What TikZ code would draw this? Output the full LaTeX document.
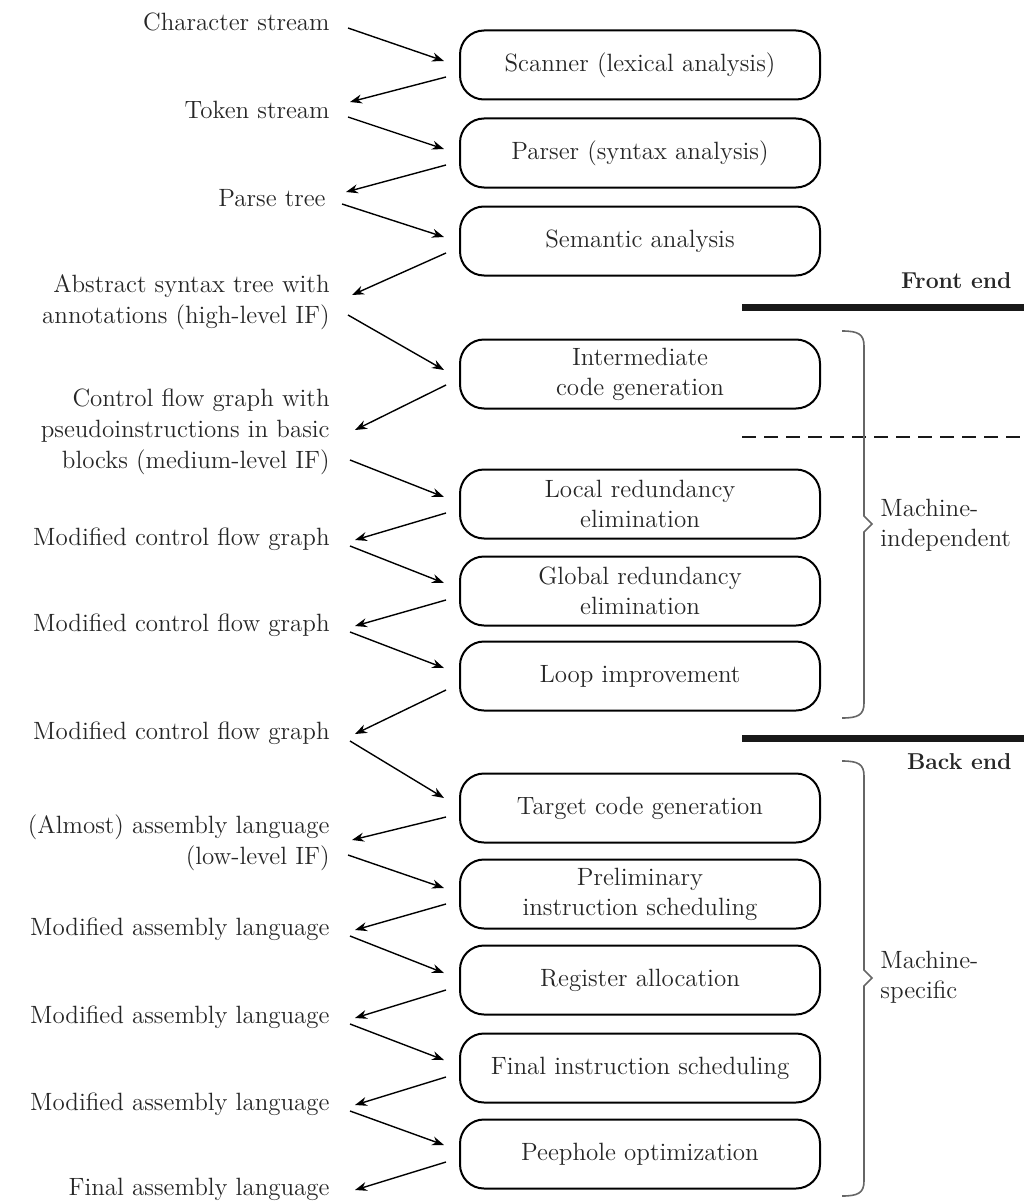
\documentclass[tikz,border=0pt]{standalone}
\usetikzlibrary{arrows.meta}

\colorlet{ink}{black!85}

\begin{document}
\begin{tikzpicture}[x=0.5pt,y=-0.5pt,
    stage/.style={draw=black,line width=1pt,rounded corners=12pt,
      minimum width=180pt,minimum height=34.5pt,inner sep=2pt,align=center,
      text=ink,font=\fontsize{12.5}{15}\selectfont},
    data/.style={anchor=east,align=right,inner sep=0pt,text=ink,
      font=\fontsize{12.5}{15.5}\selectfont},
    flow/.style={draw=black,line width=0.7pt,-{Stealth[length=6pt,width=4.5pt]}},
    side/.style={anchor=west,align=left,inner sep=0pt,text=ink,
      font=\fontsize{12.5}{15}\selectfont},
    part/.style={anchor=east,inner sep=0pt,text=ink,
      font=\bfseries\fontsize{11.5}{14}\selectfont},
    bar/.style={draw=black!90,line width=3.5pt},
    brace/.style={draw=black!60,line width=0.8pt}]

  \useasboundingbox (0,0) rectangle (1024,1204);

  % phases
  \node[stage] (scan) at (640,65)  {Scanner (lexical analysis)};
  \node[stage] (pars) at (640,153) {Parser (syntax analysis)};
  \node[stage] (sema) at (640,241) {Semantic analysis};
  \node[stage] (inter) at (640,374) {Intermediate\\code generation};
  \node[stage] (local) at (640,504) {Local redundancy\\elimination};
  \node[stage] (glob) at (640,591) {Global redundancy\\elimination};
  \node[stage] (loop) at (640,676) {Loop improvement};
  \node[stage] (targ) at (640,808) {Target code generation};
  \node[stage] (prel) at (640,894) {Preliminary\\instruction scheduling};
  \node[stage] (reg) at (640,980)  {Register allocation};
  \node[stage] (fins) at (640,1068) {Final instruction scheduling};
  \node[stage] (peep) at (640,1154) {Peephole optimization};

  % program forms
  \node[data] (chr) at (330,22)  {Character stream};
  \node[data] (tok) at (330,110) {Token stream};
  \node[data] (ptree) at (326,198) {Parse tree};
  \node[data] (ast) at (330,302) {Abstract syntax tree with\\annotations (high-level IF)};
  \node[data] (cfg) at (330,432) {Control flow graph with\\pseudoinstructions in basic\\blocks (medium-level IF)};
  \node[data] (mc1) at (330,539) {Modified control flow graph};
  \node[data] (mc2) at (330,625) {Modified control flow graph};
  \node[data] (mc3) at (330,733) {Modified control flow graph};
  \node[data] (asm) at (330,843) {(Almost) assembly language\\(low-level IF)};
  \node[data] (ma1) at (330,929) {Modified assembly language};
  \node[data] (ma2) at (330,1017) {Modified assembly language};
  \node[data] (ma3) at (330,1104) {Modified assembly language};
  \node[data] (fin) at (330,1189) {Final assembly language};

  % into each phase
  \draw[flow] ([shift={(18,6)}]chr.east)   -- ([shift={(-15,-4)}]scan.west);
  \draw[flow] ([shift={(18,7)}]tok.east)   -- ([shift={(-15,-4)}]pars.west);
  \draw[flow] ([shift={(16,6)}]ptree.east) -- ([shift={(-15,-4)}]sema.west);
  \draw[flow] ([shift={(18,13)}]ast.east)  -- ([shift={(-15,-4)}]inter.west);
  \draw[flow] ([shift={(20,28)}]cfg.east)  -- ([shift={(-15,-7)}]local.west);
  \draw[flow] ([shift={(20,7)}]mc1.east)   -- ([shift={(-15,-8)}]glob.west);
  \draw[flow] ([shift={(20,7)}]mc2.east)   -- ([shift={(-15,-8)}]loop.west);
  \draw[flow] ([shift={(20,8)}]mc3.east)   -- ([shift={(-15,-10)}]targ.west);
  \draw[flow] ([shift={(18,12)}]asm.east)  -- ([shift={(-15,-6)}]prel.west);
  \draw[flow] ([shift={(20,7)}]ma1.east)   -- ([shift={(-15,-7)}]reg.west);
  \draw[flow] ([shift={(20,7)}]ma2.east)   -- ([shift={(-15,-8)}]fins.west);
  \draw[flow] ([shift={(20,7)}]ma3.east)   -- ([shift={(-15,-9)}]peep.west);

  % out of each phase
  \draw[flow] ([shift={(-13,12)}]scan.west)  -- ([shift={(20,-8)}]tok.east);
  \draw[flow] ([shift={(-13,12)}]pars.west)  -- ([shift={(20,-6)}]ptree.east);
  \draw[flow] ([shift={(-13,12)}]sema.west)  -- ([shift={(22,-7)}]ast.east);
  \draw[flow] ([shift={(-13,11)}]inter.west) -- ([shift={(25,-2)}]cfg.east);
  \draw[flow] ([shift={(-13,9)}]local.west)  -- ([shift={(25,1)}]mc1.east);
  \draw[flow] ([shift={(-13,9)}]glob.west)   -- ([shift={(25,1)}]mc2.east);
  \draw[flow] ([shift={(-13,14)}]loop.west)  -- ([shift={(25,1)}]mc3.east);
  \draw[flow] ([shift={(-13,9)}]targ.west)   -- ([shift={(22,-3)}]asm.east);
  \draw[flow] ([shift={(-13,10)}]prel.west)  -- ([shift={(25,1)}]ma1.east);
  \draw[flow] ([shift={(-13,10)}]reg.west)   -- ([shift={(25,1)}]ma2.east);
  \draw[flow] ([shift={(-13,9)}]fins.west)   -- ([shift={(25,1)}]ma3.east);
  \draw[flow] ([shift={(-13,8)}]peep.west)   -- ([shift={(25,1)}]fin.east);

  % front end / back end
  \node[part] (front) at (1012,281) {Front end};
  \draw[bar] (742,307) -- (1024,307);
  \draw[black!90,line width=0.8pt,dash pattern=on 7pt off 4pt] (742,437) -- (1024,437);
  \draw[bar] (742,738) -- (1024,738);
  \node[part] (back) at (1012,762) {Back end};

  % braces
  \draw[brace] (842,331) .. controls (858,331) and (864,334) .. (864,346)
    -- (864,516) -- (872,524) -- (864,532) -- (864,703)
    .. controls (864,715) and (858,718) .. (842,718);
  \node[side] (indep) at (880,525) {Machine-\\independent};

  \draw[brace] (842,761) .. controls (858,761) and (864,764) .. (864,776)
    -- (864,970) -- (872,978) -- (864,986) -- (864,1181)
    .. controls (864,1193) and (858,1196) .. (842,1196);
  \node[side] (spec) at (880,977) {Machine-\\specific};

\end{tikzpicture}
\end{document}
